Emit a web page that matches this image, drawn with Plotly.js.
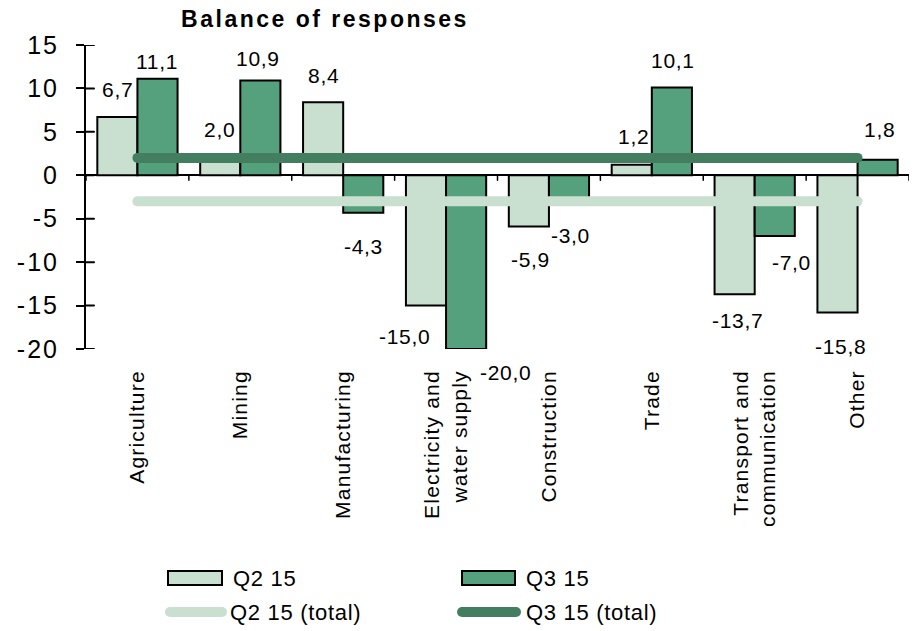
<!DOCTYPE html>
<html>
<head>
<meta charset="utf-8">
<script src="https://cdn.plot.ly/plotly-3.0.1.min.js"></script>
<style>
  html, body { margin: 0; padding: 0; background: #ffffff; }
  #chart { width: 918px; height: 631px; }
  .scatterlayer .js-line { stroke-linecap: round; }
  .shapelayer path { stroke-linecap: round; }
  .gtitle { letter-spacing: 2.5px; }
  .ytick text { letter-spacing: 2px; }
  .xtick text { letter-spacing: 1.2px; }
  .annotation-text { letter-spacing: 0.7px; }
</style>
</head>
<body>
<div id="chart"></div>
<script>
// ---- data ----
const categories = ['Agriculture', 'Mining', 'Manufacturing', 'Electricity and<br>water supply',
                    'Construction', 'Trade', 'Transport and<br>communication', 'Other'];
const q2Values = [6.7, 2.0, 8.4, -15.0, -5.9, 1.2, -13.7, -15.8];
const q3Values = [11.1, 10.9, -4.3, -20.0, -3.0, 10.1, -7.0, 1.8];
const q2Total = [-3.0, -3.0, -3.0, -3.0, -3.0, -3.0, -3.0, -3.0];
const q3Total = [2.0, 2.0, 2.0, 2.0, 2.0, 2.0, 2.0, 2.0];
const yTickValues = [-20, -15, -10, -5, 0, 5, 10, 15];
const seriesNames = ['Q2 15', 'Q3 15', 'Q2 15 (total)', 'Q3 15 (total)'];
const titleText = 'Balance of responses';

// ---- label placement (pixel nudges, style only) ----
const q2LabelDx = [0, -1, 0, -22, 2, 2, 3, 3];
const q2LabelDy = [28, 28, 27, -31, -33, 28, -26, -34];
const q3LabelDx = [-1, -2, 0, 39, 1, 1, 17, 2];
const q3LabelDy = [17, 22, -34, -23, -34, 27, -26, 30];

// ---- style ----
const lightGreen = '#c9e0d1';
const darkGreen = '#55a17d';
const lineLight = '#c9e0d1';
const lineDark = '#437e61';
const FONT = '"Liberation Sans", Arial, sans-serif';
const M = {l: 86, r: 9, t: 45, b: 282};
const W = 918, H = 631;
const plotW = W - M.l - M.r, plotH = H - M.t - M.b;
const px2x = px => (px - M.l) / plotW;
const py2y = py => (H - M.b - py) / plotH;

const fmt = v => v.toFixed(1).replace('.', ',');
const barHalf = 0.195;

const traces = [
  {type: 'bar', name: seriesNames[0], x: categories, y: q2Values,
   marker: {color: lightGreen, line: {color: '#000000', width: 2}}, showlegend: false, hoverinfo: 'skip'},
  {type: 'bar', name: seriesNames[1], x: categories, y: q3Values,
   marker: {color: darkGreen, line: {color: '#000000', width: 2}}, showlegend: false, hoverinfo: 'skip'},
  {type: 'scatter', mode: 'lines', name: seriesNames[2], x: categories, y: q2Total,
   line: {color: lineLight, width: 10}, showlegend: false, hoverinfo: 'skip'},
  {type: 'scatter', mode: 'lines', name: seriesNames[3], x: categories, y: q3Total,
   line: {color: lineDark, width: 10}, showlegend: false, hoverinfo: 'skip'}
];

const annotations = [];
q2Values.forEach((v, i) => annotations.push({
  x: i - barHalf, y: v, xref: 'x', yref: 'y', text: fmt(v), showarrow: false,
  xshift: q2LabelDx[i], yshift: q2LabelDy[i], font: {family: FONT, size: 21, color: '#000'}
}));
q3Values.forEach((v, i) => annotations.push({
  x: i + barHalf, y: v, xref: 'x', yref: 'y', text: fmt(v), showarrow: false,
  xshift: q3LabelDx[i], yshift: q3LabelDy[i], font: {family: FONT, size: 21, color: '#000'}
}));

// legend (manual, to match the reference's swatch shapes)
const legendItems = [
  {name: seriesNames[0], kind: 'rect', color: lightGreen, sx0: 168, sx1: 222, tx: 231, ty: 578},
  {name: seriesNames[1], kind: 'rect', color: darkGreen, sx0: 462, sx1: 515, tx: 524, ty: 578},
  {name: seriesNames[2], kind: 'line', color: lineLight, sx0: 170, sx1: 222, tx: 228, ty: 612},
  {name: seriesNames[3], kind: 'line', color: lineDark, sx0: 462, sx1: 516, tx: 524, ty: 612}
];

const shapes = [];
legendItems.forEach(it => {
  if (it.kind === 'rect') {
    shapes.push({type: 'rect', xref: 'paper', yref: 'paper',
      x0: px2x(it.sx0), x1: px2x(it.sx1), y0: py2y(it.ty - 7), y1: py2y(it.ty + 7),
      fillcolor: it.color, line: {color: '#000', width: 2}});
  } else {
    shapes.push({type: 'line', xref: 'paper', yref: 'paper',
      x0: px2x(it.sx0), x1: px2x(it.sx1), y0: py2y(it.ty), y1: py2y(it.ty),
      line: {color: it.color, width: 10}});
  }
  annotations.push({xref: 'paper', yref: 'paper', x: px2x(it.tx), y: py2y(it.ty),
    xanchor: 'left', yanchor: 'middle', text: it.name, showarrow: false,
    font: {family: FONT, size: 22, color: '#000'}});
});

// category separators on the zero line (ticks pointing down)
for (let i = 0; i <= categories.length; i++) {
  shapes.push({type: 'line', xref: 'x', yref: 'y', ysizemode: 'pixel', yanchor: 0,
    x0: i - 0.5, x1: i - 0.5, y0: 0, y1: -5, line: {color: '#000', width: 1.5}, layer: 'above'});
}
// inner half of y-axis cross ticks
yTickValues.forEach(t => {
  shapes.push({type: 'line', xref: 'paper', yref: 'y', xsizemode: 'pixel', xanchor: 0,
    x0: 0, x1: 8, y0: t, y1: t, line: {color: '#000', width: 2}, layer: 'above'});
});

const layout = {
  width: W, height: H,
  margin: M,
  paper_bgcolor: '#ffffff', plot_bgcolor: '#ffffff',
  font: {family: FONT, color: '#000'},
  title: {text: '<b>' + titleText + '</b>', x: 325 / W, xanchor: 'center', xref: 'container',
          y: 1 - 19 / H, yanchor: 'middle', yref: 'container',
          font: {family: FONT, size: 23, color: '#000'}},
  barmode: 'group', bargap: 0.22, bargroupgap: 0,
  showlegend: false,
  xaxis: {type: 'category', range: [-0.5, categories.length - 0.5], showline: false, ticks: '',
          tickangle: -90, tickfont: {family: FONT, size: 21, color: '#000'},
          ticklabelstandoff: 16, showgrid: false, zeroline: false, fixedrange: true},
  yaxis: {range: [-20, 15], tickvals: yTickValues, ticktext: yTickValues.map(String),
          showline: true, linecolor: '#000', linewidth: 2, ticks: 'outside', ticklen: 8,
          tickwidth: 2, tickcolor: '#000', tickfont: {family: FONT, size: 25, color: '#000'},
          ticklabelstandoff: 12, showgrid: false, zeroline: true, zerolinecolor: '#000',
          zerolinewidth: 2, fixedrange: true},
  annotations: annotations,
  shapes: shapes
};

Plotly.newPlot('chart', traces, layout, {displayModeBar: false, staticPlot: true});
</script>
</body>
</html>
